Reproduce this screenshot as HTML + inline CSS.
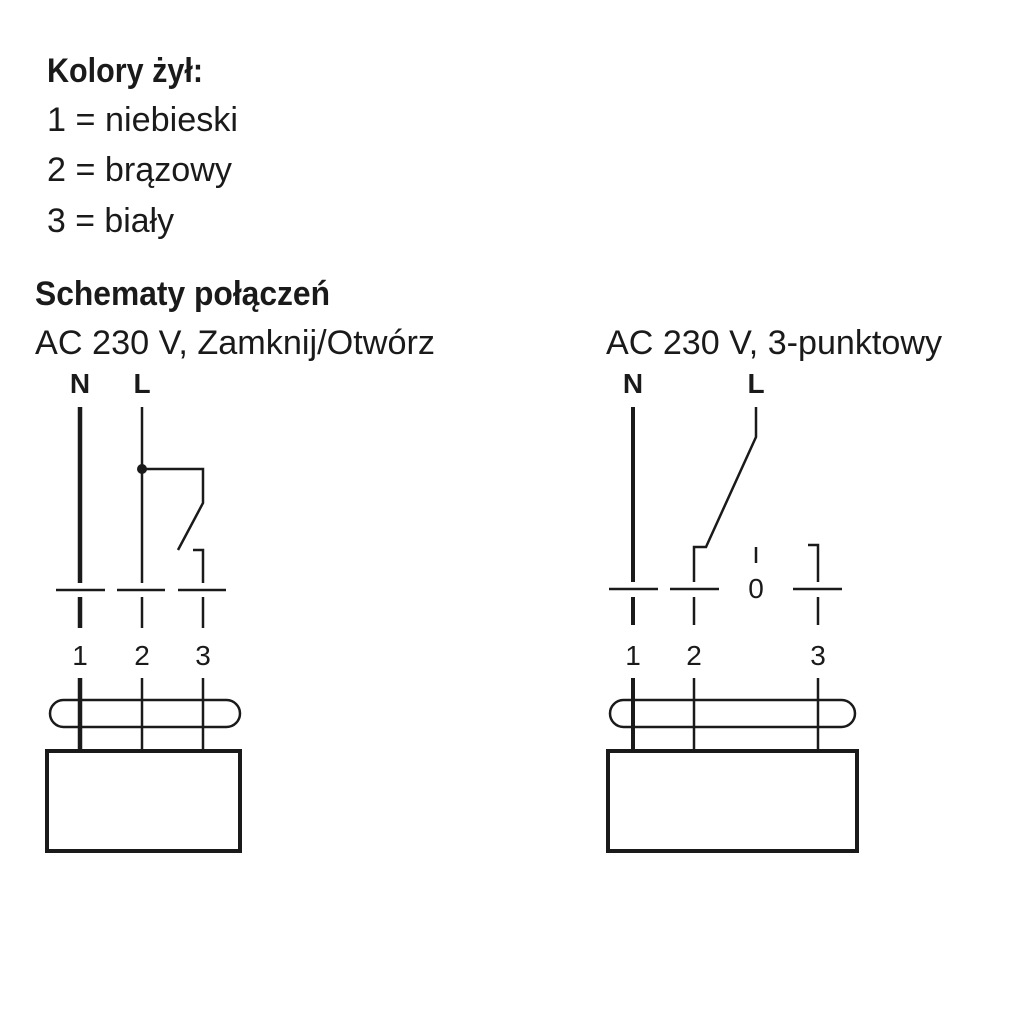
<!DOCTYPE html>
<html><head><meta charset="utf-8"><style>html,body{margin:0;padding:0;background:#fff}svg{display:block}</style></head>
<body>
<svg width="1024" height="1024" viewBox="0 0 1024 1024" xmlns="http://www.w3.org/2000/svg">
<g font-family="Liberation Sans, sans-serif" fill="#1a1a1a" font-size="34">
<text x="47" y="82" font-weight="bold" textLength="156" lengthAdjust="spacingAndGlyphs">Kolory żył:</text>
<text x="47" y="131" textLength="191" lengthAdjust="spacingAndGlyphs">1 = niebieski</text>
<text x="47" y="181" textLength="185" lengthAdjust="spacingAndGlyphs">2 = brązowy</text>
<text x="47" y="232" textLength="127" lengthAdjust="spacingAndGlyphs">3 = biały</text>
<text x="35" y="305" font-weight="bold" textLength="295" lengthAdjust="spacingAndGlyphs">Schematy połączeń</text>
<text x="35" y="354" textLength="400" lengthAdjust="spacingAndGlyphs">AC 230 V, Zamknij/Otwórz</text>
<text x="606" y="354" textLength="336" lengthAdjust="spacingAndGlyphs">AC 230 V, 3-punktowy</text>
</g>
<g font-family="Liberation Sans, sans-serif" fill="#1a1a1a" font-size="28" text-anchor="middle">
<text x="80" y="393" font-weight="bold">N</text>
<text x="142" y="393" font-weight="bold">L</text>
<text x="80" y="665">1</text><text x="142" y="665">2</text><text x="203" y="665">3</text>
<text x="633" y="393" font-weight="bold">N</text>
<text x="756" y="393" font-weight="bold">L</text>
<text x="633" y="665">1</text><text x="694" y="665">2</text><text x="818" y="665">3</text>
<text x="756" y="598">0</text>
</g>
<g stroke="#1a1a1a" fill="none" stroke-width="2.5">
<line x1="80" y1="407" x2="80" y2="583" stroke-width="4.5"/>
<line x1="80" y1="597" x2="80" y2="628" stroke-width="4.5"/>
<line x1="142" y1="407" x2="142" y2="583"/>
<polyline points="142,469 203,469 203,503 178,550"/>
<polyline points="193,550 203,550 203,583"/>
<line x1="56" y1="590" x2="105" y2="590"/>
<line x1="117" y1="590" x2="165" y2="590"/>
<line x1="178" y1="590" x2="226" y2="590"/>
<line x1="142" y1="597" x2="142" y2="628"/>
<line x1="203" y1="597" x2="203" y2="628"/>
<rect x="50" y="700" width="190" height="27" rx="13.5"/>
<line x1="80" y1="678" x2="80" y2="751" stroke-width="4.5"/>
<line x1="142" y1="678" x2="142" y2="751"/>
<line x1="203" y1="678" x2="203" y2="751"/>
<rect x="47" y="751" width="193" height="100" stroke-width="4"/>
<line x1="633" y1="407" x2="633" y2="582" stroke-width="4"/>
<line x1="633" y1="597" x2="633" y2="625" stroke-width="4"/>
<polyline points="756,407 756,437 706,547 694,547 694,582"/>
<line x1="756" y1="547" x2="756" y2="563"/>
<polyline points="808,545 818,545 818,582"/>
<line x1="609" y1="589" x2="658" y2="589"/>
<line x1="670" y1="589" x2="719" y2="589"/>
<line x1="793" y1="589" x2="842" y2="589"/>
<line x1="694" y1="597" x2="694" y2="625"/>
<line x1="818" y1="597" x2="818" y2="625"/>
<rect x="610" y="700" width="245" height="27" rx="13.5"/>
<line x1="633" y1="678" x2="633" y2="751" stroke-width="4"/>
<line x1="694" y1="678" x2="694" y2="751"/>
<line x1="818" y1="678" x2="818" y2="751"/>
<rect x="608" y="751" width="249" height="100" stroke-width="4"/>
</g>
<circle cx="142" cy="469" r="5" fill="#1a1a1a"/>
</svg>
</body></html>
